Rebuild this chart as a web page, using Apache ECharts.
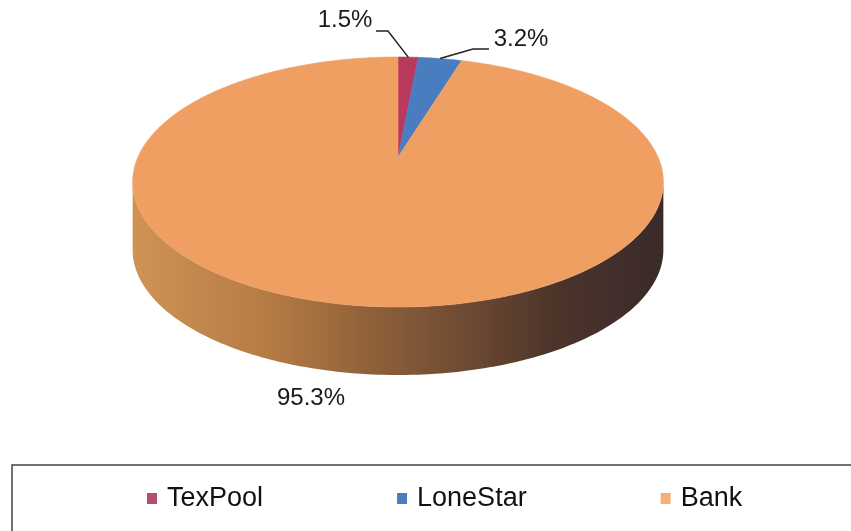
<!DOCTYPE html>
<html><head><meta charset="utf-8">
<script src="https://cdn.jsdelivr.net/npm/echarts@6.0.0/dist/echarts.min.js"></script>
<style>html,body{margin:0;padding:0;background:#fff}#c{width:851px;height:531px}</style>
</head><body><div id="c"></div>
<script>
// ---- data ----
const categories = ['TexPool', 'LoneStar', 'Bank'];
const values = [1.5, 3.2, 95.3];
const labelTexts = ['1.5%', '3.2%', '95.3%'];

// ---- style / layout ----
const colors = ['#b83a5e', '#4a7dbf', '#f09f63'];
const legendColors = ['#b34c70', '#4a7dbf', '#f5b07a'];
const sideStops = [
  [[0, '#7a2540'], [1, '#3a1420']],
  [[0, '#2f5582'], [1, '#1a2f48']],
  [[0, '#cf9354'], [0.25, '#b67c45'], [0.45, '#8e6139'], [0.62, '#6f4b33'], [0.8, '#4c342a'], [1, '#3a2a2a']]
];
const G = { cx: 398, cy: 157, A: 260, B: 120, c: 0.2, depth: 68 };
const labelLayout = [
  { pos: [345, 20], elbow: [[388, 31], [376, 31]] },
  { pos: [521, 39], elbow: [[473, 49], [489, 49]] },
  { pos: [311, 398], elbow: null }
];

function proj(a) {
  const u = Math.sin(a), v = -Math.cos(a);
  const k = 1 / (1 - G.c * v);
  return [G.cx + G.A * u * k, G.cy + G.B * v * k];
}
const VIS0 = Math.acos(-G.c), VIS1 = 2 * Math.PI - Math.acos(-G.c);

function makeRender(idx) {
  return function (params, api) {
    const total = values.reduce((s, x) => s + x, 0);
    let before = 0;
    for (let i = 0; i < idx; i++) before += values[i];
    const val = api.value(0);
    const a0 = before / total * 2 * Math.PI;
    const a1 = (before + val) / total * 2 * Math.PI;
    const children = [];
    // side wall (visible front part)
    const w0 = Math.max(a0, VIS0), w1 = Math.min(a1, VIS1);
    if (w1 > w0) {
      const n = Math.max(4, Math.ceil((w1 - w0) / (2 * Math.PI) * 360));
      const top = [], bot = [];
      for (let k = 0; k <= n; k++) {
        const p = proj(w0 + (w1 - w0) * k / n);
        top.push(p);
        bot.push([p[0], p[1] + G.depth]);
      }
      children.push({
        type: 'polygon', z2: 1,
        shape: { points: top.concat(bot.reverse()) },
        style: {
          fill: {
            type: 'linear', x: G.cx - 266, y: 0, x2: G.cx + 266, y2: 0, global: true,
            colorStops: sideStops[idx].map(s => ({ offset: s[0], color: s[1] }))
          }
        }
      });
    }
    // top face
    const n2 = Math.max(4, Math.ceil((a1 - a0) / (2 * Math.PI) * 360));
    const pts = [[G.cx, G.cy]];
    for (let k = 0; k <= n2; k++) pts.push(proj(a0 + (a1 - a0) * k / n2));
    children.push({
      type: 'polygon', z2: 2,
      shape: { points: pts },
      style: { fill: colors[idx], stroke: colors[idx], lineWidth: 0.6 }
    });
    // label
    const L = labelLayout[idx];
    if (L.elbow) {
      const anchor = proj((a0 + a1) / 2);
      children.push({
        type: 'polyline', z2: 5,
        shape: { points: [anchor].concat(L.elbow) },
        style: { stroke: '#222', lineWidth: 1.5, fill: null }
      });
    }
    children.push({
      type: 'text', z2: 6,
      x: L.pos[0], y: L.pos[1],
      style: {
        text: labelTexts[idx], fill: '#1a1a1a',
        font: '24px "Liberation Sans", Arial, sans-serif',
        align: 'center', verticalAlign: 'middle'
      }
    });
    return { type: 'group', children: children };
  };
}

const chart = echarts.init(document.getElementById('c'), null, { renderer: 'canvas' });
chart.setOption({
  animation: false,
  backgroundColor: '#ffffff',
  legend: {
    left: 147, top: 485, padding: 0,
    icon: 'rect', itemWidth: 10, itemHeight: 11, itemGap: 134,
    data: categories,
    textStyle: { fontSize: 27, fontFamily: '"Liberation Sans", Arial, sans-serif', color: '#111', padding: [0, 0, 0, 5] }
  },
  graphic: [{
    type: 'rect', silent: true,
    shape: { x: 12, y: 465, width: 900, height: 120 },
    style: { fill: 'none', stroke: '#444', lineWidth: 1.5 }
  }],
  series: categories.map((name, i) => ({
    type: 'custom',
    name: name,
    coordinateSystem: 'none',
    silent: true,
    itemStyle: { color: legendColors[i] },
    renderItem: makeRender(i),
    data: [[values[i]]],
    z: 2
  }))
});
</script>
</body></html>
